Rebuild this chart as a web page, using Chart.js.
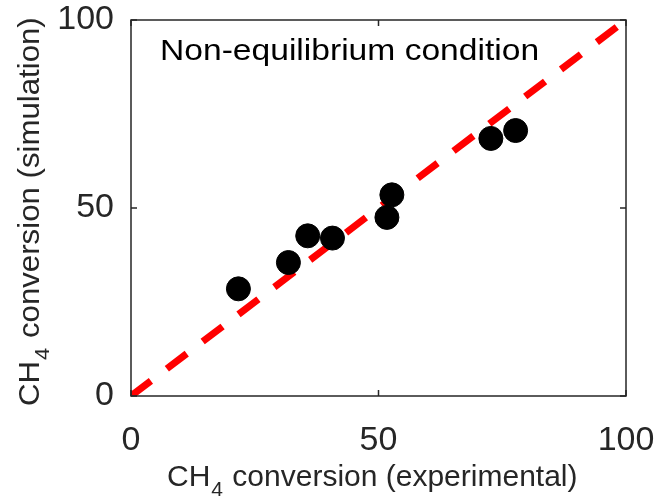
<!DOCTYPE html>
<html>
<head>
<meta charset="utf-8">
<script src="https://cdn.jsdelivr.net/npm/chart.js@4"></script>
<style>
  html, body { margin: 0; padding: 0; background: #fff; }
  #wrap { width: 658px; height: 496px; }
</style>
</head>
<body>
<div id="wrap"><canvas id="chartCH4"></canvas></div>
<script>
// CH4 conversion, experiment vs simulation (%)
const expConversion = [21.7, 31.8, 35.7, 40.7, 51.7, 52.7, 72.7, 77.7];
const simConversion = [28.5, 35.5, 42.6, 42.0, 47.5, 53.5, 68.5, 70.6];
const parityLine = [0, 100];
const tickValues = [0, 50, 100];
const titleText = "Non-equilibrium condition";

const axisColor = "#262626";
const fontFamily = "'Liberation Sans', Arial, Helvetica, sans-serif";

// text with a subscript "4" after "CH"
const drawSubLabel = (ctx, x, y, rest) => {
  ctx.font = "30px " + fontFamily;
  ctx.fillText("CH", x, y);
  const w1 = ctx.measureText("CH").width;
  ctx.font = "21px " + fontFamily;
  ctx.fillText("4", x + w1 + 1, y + 10);
  const w2 = ctx.measureText("4").width;
  ctx.font = "30px " + fontFamily;
  ctx.fillText(rest, x + w1 + w2 + 2, y);
};

const frameAndLabels = {
  id: "frameAndLabels",
  afterDraw(chart) {
    const { ctx, chartArea: a, scales } = chart;
    ctx.save();
    // box with inward ticks
    ctx.strokeStyle = axisColor;
    ctx.lineWidth = 1.5;
    ctx.strokeRect(a.left, a.top, a.right - a.left, a.bottom - a.top);
    const tl = 6;
    ctx.beginPath();
    tickValues.forEach((v) => {
      const px = scales.x.getPixelForValue(v);
      const py = scales.y.getPixelForValue(v);
      ctx.moveTo(px, a.bottom); ctx.lineTo(px, a.bottom - tl);
      ctx.moveTo(px, a.top); ctx.lineTo(px, a.top + tl);
      ctx.moveTo(a.left, py); ctx.lineTo(a.left + tl, py);
      ctx.moveTo(a.right, py); ctx.lineTo(a.right - tl, py);
    });
    ctx.stroke();

    // title inside the plot
    ctx.fillStyle = "#000";
    ctx.textBaseline = "alphabetic";
    ctx.textAlign = "left";
    ctx.save();
    ctx.translate(a.left + 29, a.top + 40);
    ctx.scale(1.12, 1);
    ctx.font = "30px " + fontFamily;
    ctx.fillText(titleText, 0, 0);
    ctx.restore();

    // axis titles
    ctx.fillStyle = axisColor;
    drawSubLabel(ctx, 167, 486, " conversion (experimental)");
    ctx.translate(39, 406);
    ctx.rotate(-Math.PI / 2);
    ctx.scale(1.04, 1);
    drawSubLabel(ctx, 0, 0, " conversion (simulation)");
    ctx.restore();
  },
};

// keep the plot box fixed: drop the extra room Chart.js reserves for edge labels
const noEdgePadding = (scale) => {
  scale.paddingLeft = 0;
  scale.paddingRight = 0;
  scale.paddingTop = 0;
  scale.paddingBottom = 0;
};

const ctx = document.getElementById("chartCH4").getContext("2d");
const myChart = new Chart(ctx, {
  type: "scatter",
  data: {
    datasets: [
      {
        label: "Data",
        data: expConversion.map((x, i) => ({ x: x, y: simConversion[i] })),
        backgroundColor: "#000",
        borderColor: "#000",
        pointRadius: 12,
        pointHoverRadius: 12,
        order: 1,
      },
      {
        type: "line",
        label: "Parity",
        data: parityLine.map((v) => ({ x: v, y: v })),
        borderColor: "#ff0000",
        borderWidth: 7,
        borderDash: [25, 20],
        pointRadius: 0,
        fill: false,
        order: 2,
      },
    ],
  },
  options: {
    responsive: true,
    maintainAspectRatio: false,
    animation: false,
    events: [],
    layout: { padding: { left: 0, top: 20, right: 32, bottom: 0 } },
    plugins: {
      legend: { display: false },
      tooltip: { enabled: false },
    },
    scales: {
      x: {
        type: "linear",
        min: 0,
        max: 100,
        afterBuildTicks: (scale) => { scale.ticks = tickValues.map((v) => ({ value: v })); },
        afterFit: (scale) => { scale.height = 100; noEdgePadding(scale); },
        grid: { display: false, drawTicks: false },
        border: { display: false },
        ticks: { color: axisColor, padding: 24, font: { family: fontFamily, size: 34 } },
      },
      y: {
        type: "linear",
        min: 0,
        max: 100,
        afterBuildTicks: (scale) => { scale.ticks = tickValues.map((v) => ({ value: v })); },
        afterFit: (scale) => { scale.width = 131; noEdgePadding(scale); },
        grid: { display: false, drawTicks: false },
        border: { display: false },
        ticks: { color: axisColor, padding: 17, font: { family: fontFamily, size: 34 } },
      },
    },
  },
  plugins: [frameAndLabels],
});
</script>
</body>
</html>
